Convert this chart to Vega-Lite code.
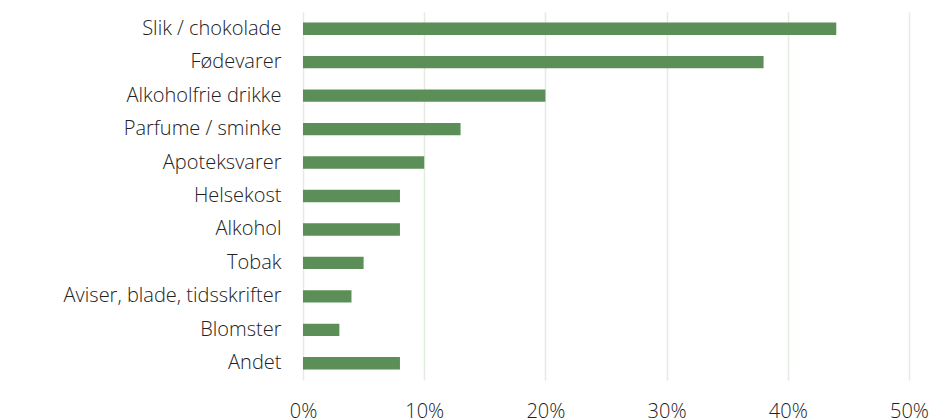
{
  "$schema": "https://vega.github.io/schema/vega-lite/v6.json",
  "autosize": "none",
  "width": 606,
  "height": 368,
  "padding": {"left": 303, "top": 12, "right": 27, "bottom": 40},
  "background": "white",
  "data": {"values": [
    {"cat": "Slik / chokolade", "v": 0.44},
    {"cat": "Fødevarer", "v": 0.38},
    {"cat": "Alkoholfrie drikke", "v": 0.20},
    {"cat": "Parfume / sminke", "v": 0.13},
    {"cat": "Apoteksvarer", "v": 0.10},
    {"cat": "Helsekost", "v": 0.08},
    {"cat": "Alkohol", "v": 0.08},
    {"cat": "Tobak", "v": 0.05},
    {"cat": "Aviser, blade, tidsskrifter", "v": 0.04},
    {"cat": "Blomster", "v": 0.03},
    {"cat": "Andet", "v": 0.08}
  ]},
  "mark": {"type": "bar", "color": "#5B8F57"},
  "encoding": {
    "y": {"field": "cat", "type": "nominal", "sort": null,
      "scale": {"paddingInner": 0.63, "paddingOuter": 0.315},
      "axis": {"title": null, "ticks": false, "domain": false, "labelPadding": 22,
        "labelFont": "Open Sans", "labelFontSize": 20, "labelFontWeight": 300, "labelColor": "#222222", "labelLimit": 400}},
    "x": {"field": "v", "type": "quantitative",
      "scale": {"domain": [0, 0.5]},
      "axis": {"title": null, "format": ".0%", "values": [0, 0.1, 0.2, 0.3, 0.4, 0.5],
        "ticks": false, "domain": false, "grid": true, "gridColor": "#E2ECE0", "gridWidth": 1.5,
        "labelPadding": 21, "labelFont": "Open Sans", "labelFontSize": 20, "labelFontWeight": 300, "labelColor": "#222222",
        "labelFlush": false}}
  },
  "config": {"view": {"stroke": null}}
}
